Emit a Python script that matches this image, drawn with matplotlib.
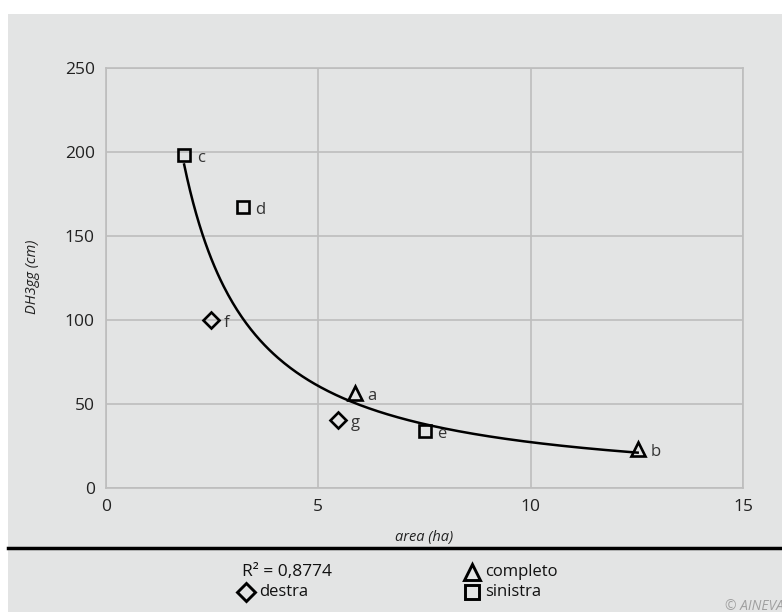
import numpy as np
import matplotlib
matplotlib.use("Agg")
import matplotlib.pyplot as plt
from matplotlib.lines import Line2D
from matplotlib.patches import Rectangle

# punti rilevati: area (ha) e DH3gg (cm)
labels = ["c", "d", "f", "a", "g", "e", "b"]
area = [1.84, 3.22, 2.47, 5.86, 5.46, 7.50, 12.52]
dh3gg = [198, 167, 100, 56.5, 40.5, 34, 23]
tipo = ["sinistra", "sinistra", "destra", "completo", "destra", "sinistra", "completo"]

x_ticks = [0, 5, 10, 15]
y_ticks = [0, 50, 100, 150, 200, 250]
r2_text = "R² = 0,8774"

markers = {"completo": "^", "destra": "D", "sinistra": "s"}
msize = {"completo": 10, "destra": 8, "sinistra": 9}
leg_size = {"completo": 11, "destra": 9.5, "sinistra": 9.5}

plt.rcParams['font.family'] = ['Open Sans', 'DejaVu Sans']
bg = "#e3e4e4"
grid = "#bdbdbd"

fig = plt.figure(figsize=(7.82, 6.12), dpi=100)
fig.patch.set_facecolor("white")
fig.add_artist(Rectangle((8 / 782, 0), 1, 1 - 14 / 612, transform=fig.transFigure,
                         facecolor=bg, edgecolor="none", zorder=-10))

ax = fig.add_axes([106 / 782, 1 - 488 / 612, (743 - 106) / 782, (488 - 68) / 612])
ax.set_facecolor(bg)
ax.set_xlim(0, 15)
ax.set_ylim(0, 250)
ax.set_xticks(x_ticks)
ax.set_yticks(y_ticks)
ax.grid(True, color=grid, linewidth=1.2)
ax.set_axisbelow(True)
for s in ax.spines.values():
    s.set_color(grid)
    s.set_linewidth(1.2)
ax.tick_params(length=0, labelsize=12.5, colors="#222222", pad=8)

# linea di tendenza: potenza y = A x^B
lx, ly = np.log(area), np.log(dh3gg)
B, lnA = np.polyfit(lx, ly, 1)
xs = np.linspace(min(area), max(area), 300)
ax.plot(xs, np.exp(lnA) * xs ** B, color="black", linewidth=1.8, zorder=2)

for lab, x, y, t in zip(labels, area, dh3gg, tipo):
    ax.plot(x, y, marker=markers[t], markersize=msize[t], markerfacecolor="none",
            markeredgecolor="black", markeredgewidth=1.9, linestyle="none", zorder=3)
    ax.annotate(lab, (x, y), xytext=(9, -2), textcoords="offset points",
                va="center", ha="left", fontsize=12, color="#333333")

ax.set_xlabel("area (ha)", fontsize=10.5, style="italic", color="#222222")
ax.xaxis.set_label_coords(0.5, -(530 - 488) / 420)
ax.set_ylabel("DH3gg (cm)", fontsize=10.5, style="italic", color="#222222")
ax.yaxis.set_label_coords(-(106 - 40) / 637, (488 - 277) / 420)

# separatore e legenda
fig.add_artist(Line2D([8 / 782, 1], [1 - 548 / 612] * 2, transform=fig.transFigure,
                      color="black", linewidth=2.5))
fy1, fy2 = 1 - 572 / 612, 1 - 592 / 612
fig.text(242 / 782, fy1, r2_text, fontsize=12.5, va="center", color="#111111")
legend_items = [("completo", 472, fy1), ("destra", 246, fy2), ("sinistra", 472, fy2)]
for t, px, fy in legend_items:
    fig.add_artist(Line2D([px / 782], [fy], transform=fig.transFigure, marker=markers[t],
                          markersize=leg_size[t], markerfacecolor="none", markeredgecolor="black",
                          markeredgewidth=2.1))
    fig.text((px + 13) / 782, fy, t, fontsize=12, va="center", color="#111111")

fig.text(725 / 782, 1 - 606 / 612, "© AINEVA", fontsize=10, style="italic",
         color="#a0a0a0", va="center", ha="left")

fig.savefig("out.png", dpi=100)
